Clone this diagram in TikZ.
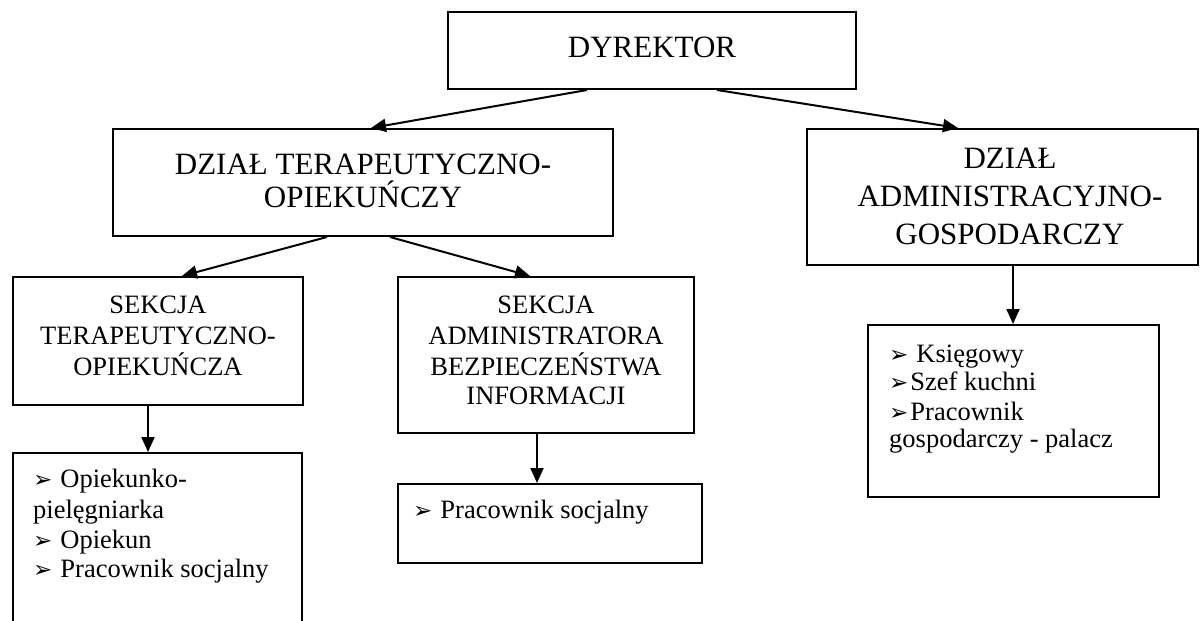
\documentclass[tikz,border=0pt]{standalone}
\usepackage{fontspec}
\setmainfont{Liberation Serif}
\newfontfamily\symfont{DejaVu Sans}
\usetikzlibrary{arrows.meta}
\tikzset{
  box/.style={draw, line width=2pt, inner sep=0pt, rectangle},
  big/.style={font=\fontsize{31}{31}\selectfont, anchor=base, inner sep=0pt},
  mid/.style={font=\fontsize{26.5}{26.5}\selectfont, anchor=base, inner sep=0pt},
  item/.style={font=\fontsize{26.5}{26.5}\selectfont, anchor=base west, inner sep=0pt},
  arr/.style={-{Triangle[length=15pt,width=13pt]}, line width=2pt},
}
\newcommand\bul{{\symfont\fontsize{23}{23}\selectfont ➢}}
\begin{document}
\begin{tikzpicture}[x=1pt,y=-1pt]
\useasboundingbox (0,0) rectangle (1202,621);
\clip (0,0) rectangle (1202,621);
% boxes
\node[box, minimum width=408pt, minimum height=77pt] (dyr) at (652,50.5) {};
\node[box, minimum width=500pt, minimum height=107pt] (dto) at (363,182.5) {};
\node[box, minimum width=391pt, minimum height=136pt] (dag) at (1002.5,197) {};
\node[box, minimum width=290pt, minimum height=128pt] (sto) at (158,341) {};
\node[box, minimum width=296pt, minimum height=156pt] (sabi) at (546,355) {};
\node[box, minimum width=289pt, minimum height=197pt] (l1) at (157.5,551.5) {};
\node[box, minimum width=304pt, minimum height=79pt] (l2) at (550,523.5) {};
\node[box, minimum width=291pt, minimum height=172pt] (l3) at (1013.5,411) {};
% texts
\node[big] (tdyr) at (652,57) {DYREKTOR};
\node[big] (tdto1) at (363,174) {DZIAŁ TERAPEUTYCZNO-};
\node[big] (tdto2) at (363,207) {OPIEKUŃCZY};
\node[big] (tdag1) at (1010,168) {DZIAŁ};
\node[big] (tdag2) at (1010,206) {ADMINISTRACYJNO-};
\node[big] (tdag3) at (1010,244) {GOSPODARCZY};
\node[mid] (tsto1) at (158,313) {SEKCJA};
\node[mid] (tsto2) at (158,344) {TERAPEUTYCZNO-};
\node[mid] (tsto3) at (158,375) {OPIEKUŃCZA};
\node[mid] (tsab1) at (546,313) {SEKCJA};
\node[mid] (tsab2) at (546,344) {ADMINISTRATORA};
\node[mid] (tsab3) at (546,375) {BEZPIECZEŃSTWA};
\node[mid] (tsab4) at (546,404) {INFORMACJI};
% lists
\node[item] (l1a) at (33,487) {\bul\hspace{8pt}Opiekunko-};
\node[item] (l1b) at (33,518) {pielęgniarka};
\node[item] (l1c) at (33,548) {\bul\hspace{8pt}Opiekun};
\node[item] (l1d) at (33,577) {\bul\hspace{8pt}Pracownik socjalny};
\node[item] (l2a) at (413,518) {\bul\hspace{8pt}Pracownik socjalny};
\node[item] (l3a) at (889,362) {\bul\hspace{8pt}Księgowy};
\node[item] (l3b) at (889,390) {\bul\hspace{2pt}Szef kuchni};
\node[item] (l3c) at (889,420) {\bul\hspace{2pt}Pracownik};
\node[item] (l3d) at (889,447) {gospodarczy - palacz};
% connectors
\draw[arr] ([xshift=-65pt]dyr.south) -- ([xshift=8pt]dto.north);
\draw[arr] ([xshift=65pt]dyr.south) -- ([xshift=-44.5pt]dag.north);
\draw[arr] ([xshift=-36pt]dto.south) -- ([xshift=24pt]sto.north);
\draw[arr] ([xshift=27pt]dto.south) -- ([xshift=-16pt]sabi.north);
\draw[arr] ([xshift=-10pt]sto.south) -- ([xshift=-10pt]sto.south |- l1.north);
\draw[arr] ([xshift=-9pt]sabi.south) -- ([xshift=-9pt]sabi.south |- l2.north);
\draw[arr] ([xshift=10.5pt]dag.south) -- ([xshift=10.5pt]dag.south |- l3.north);
\end{tikzpicture}
\end{document}
